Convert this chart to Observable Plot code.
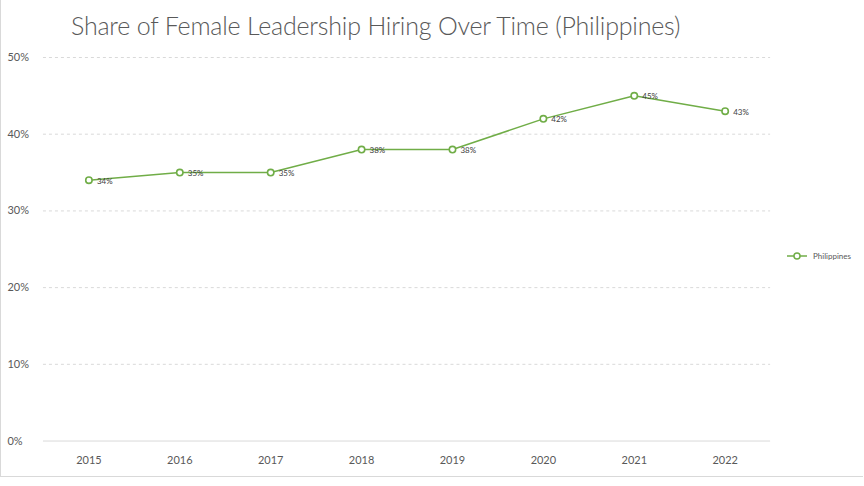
<!DOCTYPE html>
<html><head><meta charset="utf-8">
<script src="https://cdn.jsdelivr.net/npm/d3@7"></script>
<script src="https://cdn.jsdelivr.net/npm/@observablehq/plot@0.6"></script>
<style>
body{margin:0;background:#fff;font-family:Lato,"Open Sans",sans-serif;}
#wrap{position:relative;width:862px;height:476px;border:1px solid #d9d9d9;border-top:none;border-right:none;overflow:hidden;}
#title{position:absolute;left:70px;top:10px;font-size:25px;color:#595959;font-weight:300;letter-spacing:-0.2px;}
#chart{position:absolute;left:-1px;top:48px;}
#legend{position:absolute;left:786px;top:251px;font-size:8px;color:#595959;display:flex;align-items:center;}
</style></head>
<body>
<div id="wrap">
<div id="title">Share of Female Leadership Hiring Over Time (Philippines)</div>
<div id="chart"></div>
<div id="legend"><svg width="22" height="10"><line x1="0" y1="5" x2="20" y2="5" stroke="#70ad47" stroke-width="1.5"/><circle cx="10" cy="5" r="3" fill="#fff" stroke="#70ad47" stroke-width="1.5"/></svg><span style="margin-left:4px">Philippines</span></div>
</div>
<script>
const years = ["2015","2016","2017","2018","2019","2020","2021","2022"];
const shares = [0.34,0.35,0.35,0.38,0.38,0.42,0.45,0.43];
const yTicks = [0,0.1,0.2,0.3,0.4,0.5];
const seriesName = "Philippines";
const data = years.map((y,i)=>({year:y, value:shares[i], series:seriesName}));
const green = "#70ad47";
const chart = Plot.plot({
  width: 864, height: 438,
  marginLeft: 43, marginRight: 93, marginTop: 9, marginBottom: 45,
  style: {fontFamily: "Lato, sans-serif", fontSize: "11px", color: "#595959", background: "transparent"},
  x: {type: "band", domain: years, padding: 0, label: null},
  y: {domain: [0, 0.5], ticks: yTicks, label: null},
  marks: [
    Plot.gridY(yTicks.filter(d=>d>0), {stroke: "#d9d9d9", strokeOpacity: 1, strokeDasharray: "3,3"}),
    Plot.ruleY([0], {stroke: "#d9d9d9"}),
    Plot.axisY({ticks: yTicks, tickFormat: d3.format(".0%"), tickSize: 0, textAnchor: "start", dx: -27, fontSize: 11, fill: "#595959"}),
    Plot.axisX({tickSize: 0, tickPadding: 15, fontSize: 11, fill: "#595959"}),
    Plot.line(data, {x: "year", y: "value", stroke: green, strokeWidth: 1.5}),
    Plot.dot(data, {x: "year", y: "value", r: 3.2, fill: "#fff", stroke: green, strokeWidth: 1.6}),
    Plot.text(data, {x: "year", y: "value", text: d => Math.round(d.value*100) + "%", textAnchor: "start", dx: 8, dy: 1, fontSize: 8, fill: "#404040"})
  ]
});
document.getElementById("chart").appendChild(chart);
</script>
</body></html>
